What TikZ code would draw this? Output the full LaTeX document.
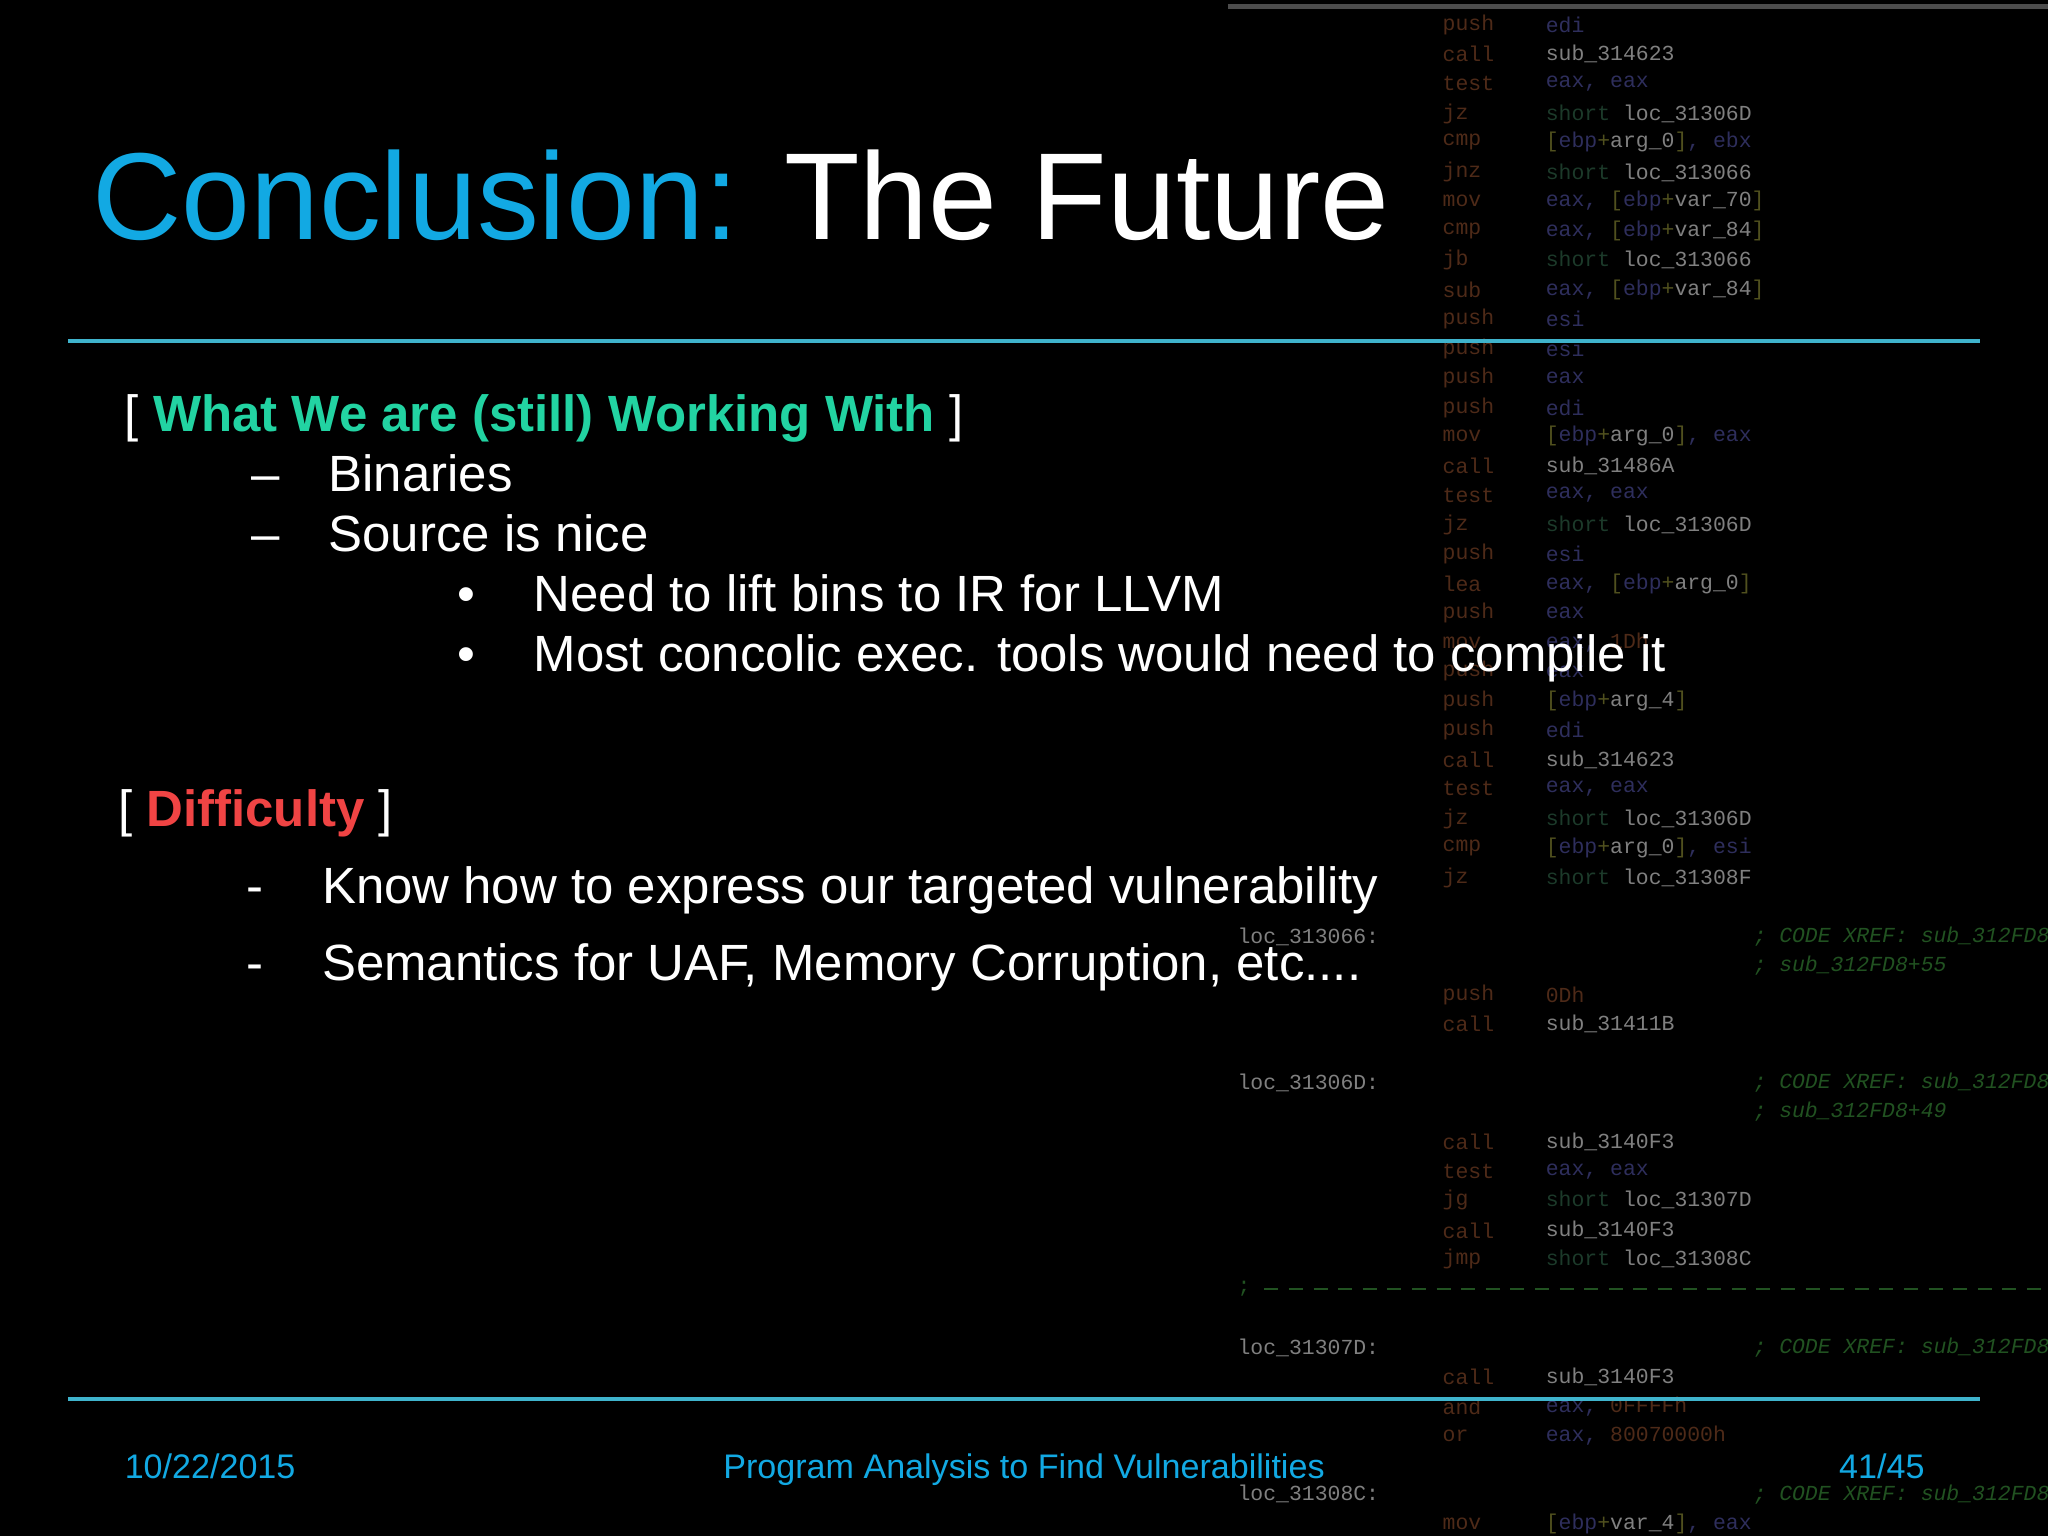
\documentclass[tikz,border=0pt]{standalone}
\usepackage{fontspec}
\setmainfont{Liberation Sans}
\newfontfamily\asmfont{Liberation Mono}
\definecolor{cyanT}{HTML}{12A9E3}
\definecolor{rulec}{HTML}{3FB3CC}
\definecolor{greenH}{HTML}{22D3A2}
\definecolor{redH}{HTML}{F04444}
\definecolor{mnc}{HTML}{4E2A18}
\definecolor{rgc}{HTML}{2E2E5C}
\definecolor{nmc}{HTML}{808080}
\definecolor{shc}{HTML}{1C3A2A}
\definecolor{brc}{HTML}{50501E}
\definecolor{cmc}{HTML}{215221}
\newcommand{\Rg}[1]{\textcolor{rgc}{#1}}
\newcommand{\Nm}[1]{\textcolor{nmc}{#1}}
\newcommand{\Sh}[1]{\textcolor{shc}{short}~\textcolor{nmc}{#1}}
\newcommand{\Br}[2]{\textcolor{brc}{[}\textcolor{rgc}{ebp}\textcolor{brc}{+}\textcolor{nmc}{#1}\textcolor{brc}{]}#2}
\newcommand{\Cm}[1]{\textcolor{cmc}{\itshape #1}}
\begin{document}
\begin{tikzpicture}[x=0.01306cm,y=-0.01306cm,
  txt/.style={anchor=base west,inner sep=0pt,text=white},
  body/.style={txt,font=\fontsize{14.5}{17}\selectfont},
  foot/.style={anchor=base,inner sep=0pt,text=cyanT,font=\fontsize{9.7}{12}\selectfont},
  asm/.style={anchor=west,inner sep=0pt,font=\asmfont\fontsize{6.1}{7}\selectfont}]
\fill[black] (0,0) rectangle (1568,1176);
\useasboundingbox (0,0) rectangle (1568,1176);
% background disassembly
\draw[gray!60!black,line width=1.5] (940,5) -- (1568,5);
\foreach \y/\m/\o in {19/push/\Rg{edi},41/call/\Nm{sub\_314623},64/test/{\Rg{eax}\Rg{,} \Rg{eax}},
 87/jz/\Sh{loc\_31306D},109/cmp/{\Br{arg\_0}{\Rg{, ebx}}},132/jnz/\Sh{loc\_313066},
 154/mov/{\Rg{eax,} \Br{var\_70}{}},177/cmp/{\Rg{eax,} \Br{var\_84}{}},199/jb/\Sh{loc\_313066},
 222/sub/{\Rg{eax,} \Br{var\_84}{}},244/push/\Rg{esi},267/push/\Rg{esi},289/push/\Rg{eax},
 312/push/\Rg{edi},334/mov/{\Br{arg\_0}{\Rg{, eax}}},357/call/\Nm{sub\_31486A},379/test/{\Rg{eax, eax}},
 402/jz/\Sh{loc\_31306D},424/push/\Rg{esi},447/lea/{\Rg{eax,} \Br{arg\_0}{}},469/push/\Rg{eax},
 492/mov/{\Rg{eax,} \textcolor{mnc}{1Dh}},514/push/\Rg{eax},537/push/{\Br{arg\_4}{}},559/push/\Rg{edi},
 582/call/\Nm{sub\_314623},604/test/{\Rg{eax, eax}},627/jz/\Sh{loc\_31306D},649/cmp/{\Br{arg\_0}{\Rg{, esi}}},
 672/jz/\Sh{loc\_31308F},762/push/\textcolor{mnc}{0Dh},784/call/\Nm{sub\_31411B},
 874/call/\Nm{sub\_3140F3},897/test/{\Rg{eax, eax}},919/jg/\Sh{loc\_31307D},942/call/\Nm{sub\_3140F3},
 964/jmp/\Sh{loc\_31308C},1054/call/\Nm{sub\_3140F3},1077/and/{\Rg{eax,} \textcolor{mnc}{0FFFFh}},
 1099/or/{\Rg{eax,} \textcolor{mnc}{80070000h}},1167/mov/{\Br{var\_4}{\Rg{, eax}}}}
 {\node[asm,text=mnc] (m\y) at (1104,\y) {\m};
  \node[asm] (o\y) at (1183,\y) {\o};}
\foreach \y/\l in {717/loc\_313066:,829/loc\_31306D:,1032/loc\_31307D:,1144/loc\_31308C:}
 {\node[asm,text=nmc] (l\y) at (947,\y) {\l};
  \node[asm] (c\y) at (1342,\y) {\Cm{; CODE XREF: sub\_312FD8}};}
\node[asm] (c739) at (1342,739) {\Cm{; sub\_312FD8+55}};
\node[asm] (c851) at (1342,851) {\Cm{; sub\_312FD8+49}};
\node[asm,text=cmc] (semi) at (947,987) {;};
\draw[cmc,dash pattern=on 4pt off 3pt] (968,987) -- (1568,987);
% rules
\draw[rulec,line width=1.2pt] (52,261) -- (1516,261);
\draw[rulec,line width=1.2pt] (52,1071) -- (1516,1071);
% title
\node[txt,font=\fontsize{35.2}{40}\selectfont] (title) at (70,183) {\textcolor{cyanT}{Conclusion:} The Future};
% body
\node[body] (h1) at (95,330) {[ \textcolor{greenH}{\bfseries What We are (still) Working With} ]};
\node[body] (d1) at (192,376) {–};
\node[body] (t1) at (251,376) {Binaries};
\node[body] (d2) at (192,422) {–};
\node[body] (t2) at (251,422) {Source is nice};
\node[body] (b1) at (350,468) {•};
\node[body] (s1) at (408,468) {Need to lift bins to IR for LLVM};
\node[body] (b2) at (350,514) {•};
\node[body] (s2) at (408,514) {Most concolic exec. tools would need to compile it};
\node[body] (h2) at (90,633) {[ \textcolor{redH}{\bfseries Difficulty} ]};
\node[body] (d3) at (188,692) {-};
\node[body] (u1) at (246,692) {Know how to express our targeted vulnerability};
\node[body] (d4) at (188,751) {-};
\node[body] (u2) at (246,751) {Semantics for UAF, Memory Corruption, etc....};
% footer
\node[foot,anchor=base west] (date) at (95,1132) {10/22/2015};
\node[foot] (ft) at (784,1132) {Program Analysis to Find Vulnerabilities};
\node[foot,anchor=base east] (pg) at (1474,1132) {41/45};
\end{tikzpicture}
\end{document}
